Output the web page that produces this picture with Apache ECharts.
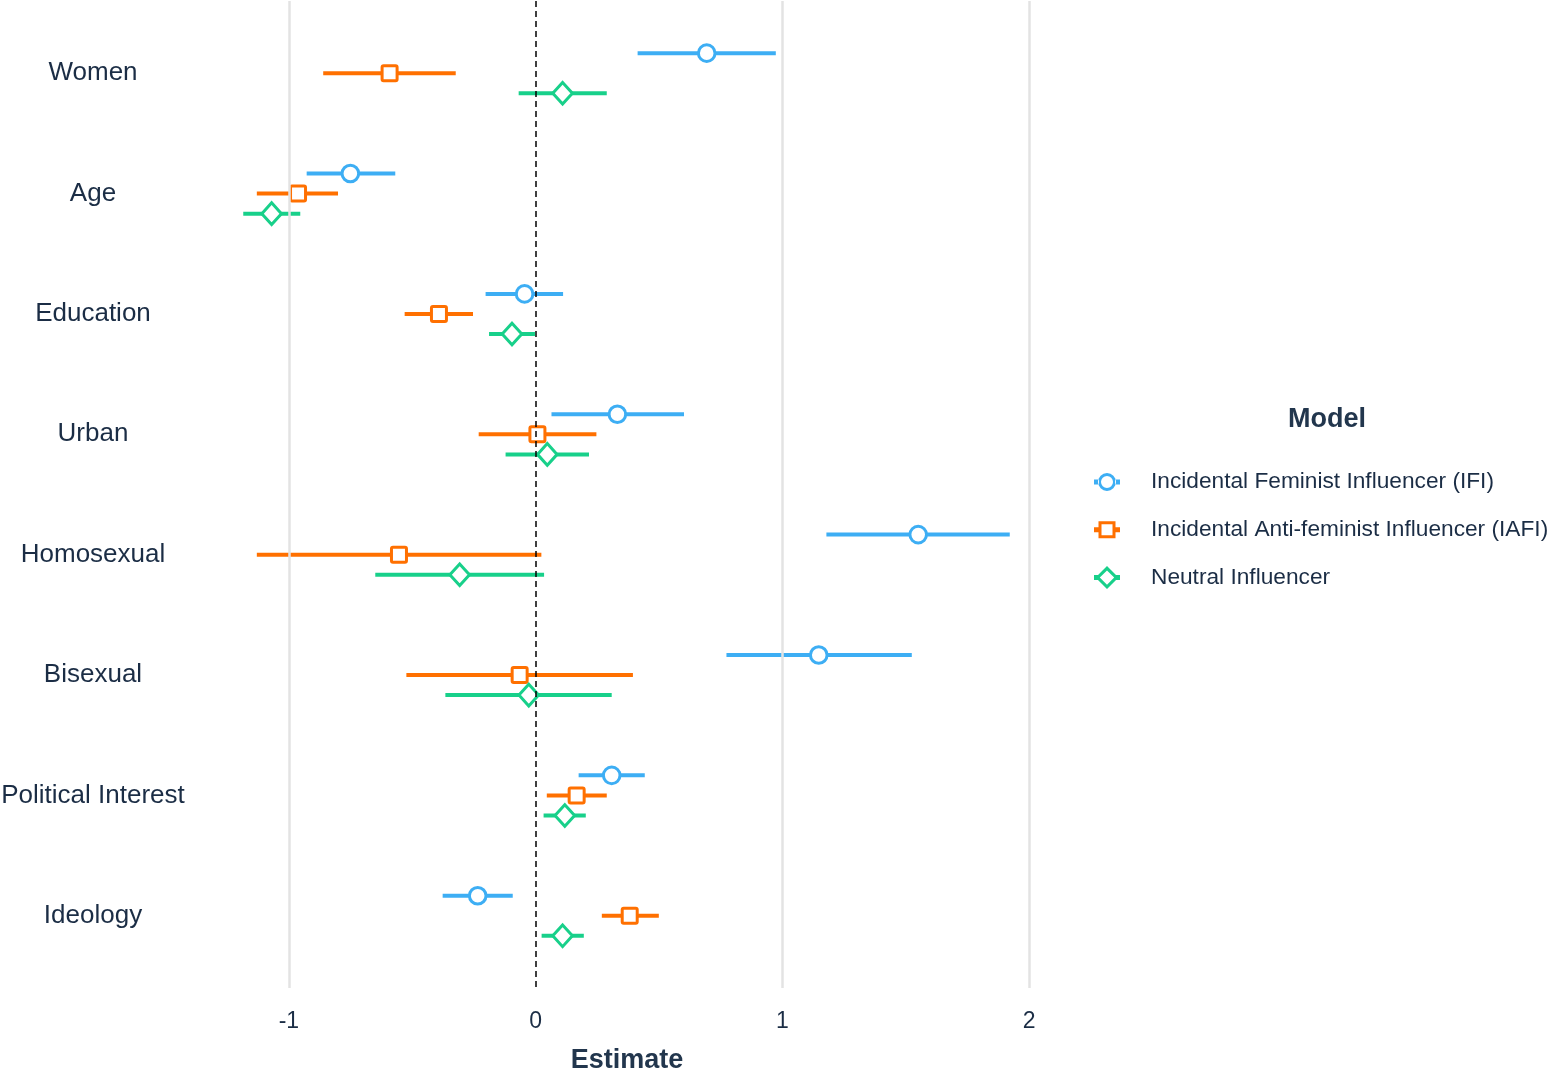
<!DOCTYPE html>
<html>
<head>
<meta charset="utf-8">
<script src="https://cdn.jsdelivr.net/npm/echarts@6/dist/echarts.min.js"></script>
<style>
html,body{margin:0;padding:0;background:#fff;}
#chart{width:1553px;height:1074px;}
</style>
</head>
<body>
<div id="chart"></div>
<script>
const categories = ['Women', 'Age', 'Education', 'Urban', 'Homosexual', 'Bisexual', 'Political Interest', 'Ideology'];
const models = ['Incidental Feminist Influencer (IFI)', 'Incidental Anti-feminist Influencer (IAFI)', 'Neutral Influencer'];
const xTicks = [-1, 0, 1, 2];

const ifiEstimate = [0.693, -0.751, -0.045, 0.331, 1.550, 1.147, 0.308, -0.235];
const ifiLower    = [0.413, -0.928, -0.203, 0.064, 1.178, 0.773, 0.174, -0.377];
const ifiUpper    = [0.973, -0.569, 0.111, 0.601, 1.921, 1.524, 0.442, -0.093];

const iafiEstimate = [-0.592, -0.963, -0.392, 0.007, -0.554, -0.065, 0.166, 0.381];
const iafiLower    = [-0.861, -1.130, -0.531, -0.231, -1.130, -0.524, 0.045, 0.268];
const iafiUpper    = [-0.324, -0.801, -0.254, 0.246, 0.023, 0.394, 0.288, 0.499];

const neutralEstimate = [0.109, -1.070, -0.096, 0.047, -0.308, -0.028, 0.118, 0.109];
const neutralLower    = [-0.069, -1.185, -0.189, -0.122, -0.650, -0.366, 0.032, 0.024];
const neutralUpper    = [0.288, -0.954, -0.003, 0.216, 0.034, 0.308, 0.203, 0.195];

const colors = ['#3DAEF4', '#FF7000', '#18D08A'];
const textColor = '#1B2D45';
const font = '"Liberation Sans", Arial, Helvetica, sans-serif';

function buildData(est, lo, hi) {
  return categories.map((c, i) => [i, lo[i], hi[i], est[i]]);
}

function makeRender(offset, shape, color) {
  return function (params, api) {
    const y = api.value(0) + 1 + offset;
    const a = api.coord([api.value(1), y]);
    const b = api.coord([api.value(2), y]);
    const c = api.coord([api.value(3), y]);
    let marker;
    if (shape === 'circle') {
      marker = { type: 'circle', shape: { cx: c[0], cy: c[1], r: 8.3 },
        style: { fill: '#fff', stroke: color, lineWidth: 3 } };
    } else if (shape === 'square') {
      marker = { type: 'rect', shape: { x: c[0] - 7.5, y: c[1] - 7.5, width: 15, height: 15, r: 1.5 },
        style: { fill: '#fff', stroke: color, lineWidth: 3 } };
    } else {
      marker = { type: 'polygon', shape: { points: [[c[0], c[1] - 10.8], [c[0] + 9.8, c[1]], [c[0], c[1] + 10.8], [c[0] - 9.8, c[1]]] },
        style: { fill: '#fff', stroke: color, lineWidth: 3, lineJoin: 'miter' } };
    }
    return {
      type: 'group',
      children: [
        { type: 'line', shape: { x1: a[0], y1: a[1], x2: b[0], y2: b[1] }, style: { stroke: color, lineWidth: 4 } },
        marker
      ]
    };
  };
}

const bbox = 'M0,-12 L0.01,-12 L0,-12 Z M26,12 L25.99,12 L26,12 Z ';
const iconCircle = 'path://' + bbox +
  'M0,-2.5 L5,-2.5 L5,2.5 L0,2.5 Z M21,-2.5 L26,-2.5 L26,2.5 L21,2.5 Z ' +
  'M4,0 A9,9 0 1,0 22,0 A9,9 0 1,0 4,0 Z ' +
  'M7,0 A6,6 0 1,1 19,0 A6,6 0 1,1 7,0 Z';
const iconSquare = 'path://' + bbox +
  'M0,-2.5 L5,-2.5 L5,2.5 L0,2.5 Z M21,-2.5 L26,-2.5 L26,2.5 L21,2.5 Z ' +
  'M4.5,-8.5 L21.5,-8.5 L21.5,8.5 L4.5,8.5 Z ' +
  'M7.5,-5.5 L7.5,5.5 L18.5,5.5 L18.5,-5.5 Z';
const iconDiamond = 'path://' + bbox +
  'M0,-2.5 L4,-2.5 L4,2.5 L0,2.5 Z M22,-2.5 L26,-2.5 L26,2.5 L22,2.5 Z ' +
  'M13,-11.5 L24.5,0 L13,11.5 L1.5,0 Z ' +
  'M13,-7.2 L5.8,0 L13,7.2 L20.2,0 Z';

const chart = echarts.init(document.getElementById('chart'), null, { renderer: 'canvas' });

const option = {
  backgroundColor: '#ffffff',
  animation: false,
  textStyle: { fontFamily: font },
  grid: { left: 205, right: 504, top: 1, bottom: 86, containLabel: false, outerBoundsMode: 'none' },
  xAxis: {
    type: 'value',
    min: -1.34,
    max: 2.08,
    axisLine: { show: false },
    axisTick: { show: false },
    splitLine: { show: false },
    axisLabel: { customValues: xTicks, fontSize: 23, color: textColor, margin: 22, fontFamily: font },
    name: 'Estimate',
    nameLocation: 'middle',
    nameGap: 59,
    nameTextStyle: { fontSize: 27, fontWeight: 'bold', color: '#22364D', fontFamily: font }
  },
  yAxis: {
    type: 'value',
    inverse: true,
    min: 0.4,
    max: 8.6,
    axisLine: { show: false },
    axisTick: { show: false },
    splitLine: { show: false },
    axisLabel: {
      customValues: categories.map((c, i) => i + 1),
      formatter: v => categories[Math.round(v) - 1] || '',
      align: 'center',
      margin: 112,
      fontSize: 26,
      color: textColor,
      fontFamily: font
    }
  },
  legend: {
    orient: 'vertical',
    left: 1094,
    top: 470,
    padding: 0,
    itemWidth: 78,
    itemHeight: 24,
    itemGap: 23.8,
    itemStyle: { borderWidth: 0 },
    textStyle: { fontSize: 22.7, color: textColor, fontFamily: font },
    data: [
      { name: models[0], icon: iconCircle },
      { name: models[1], icon: iconSquare },
      { name: models[2], icon: iconDiamond }
    ]
  },
  graphic: [
    { type: 'text', left: 1328 - 40, top: 406,
      style: { text: 'Model', fontSize: 27, fontWeight: 'bold', fill: '#22364D', fontFamily: font } }
  ],
  series: [
    {
      name: 'grid', type: 'line', data: [], z: 1, silent: true,
      markLine: {
        silent: true, symbol: 'none', label: { show: false }, animation: false,
        lineStyle: { color: '#E3E3E3', width: 2.5, type: 'solid' },
        data: [{ xAxis: -1 }, { xAxis: 1 }, { xAxis: 2 }]
      }
    },
    {
      name: models[0], type: 'custom', z: 2,
      itemStyle: { color: colors[0] },
      renderItem: makeRender(-1 / 6, 'circle', colors[0]),
      encode: { x: [1, 2, 3], y: 0 },
      data: buildData(ifiEstimate, ifiLower, ifiUpper)
    },
    {
      name: models[1], type: 'custom', z: 2,
      itemStyle: { color: colors[1] },
      renderItem: makeRender(0, 'square', colors[1]),
      encode: { x: [1, 2, 3], y: 0 },
      data: buildData(iafiEstimate, iafiLower, iafiUpper)
    },
    {
      name: models[2], type: 'custom', z: 2,
      itemStyle: { color: colors[2] },
      renderItem: makeRender(1 / 6, 'diamond', colors[2]),
      encode: { x: [1, 2, 3], y: 0 },
      data: buildData(neutralEstimate, neutralLower, neutralUpper)
    },
    {
      name: 'zero', type: 'line', data: [], z: 5, silent: true,
      markLine: {
        silent: true, symbol: 'none', label: { show: false }, animation: false,
        lineStyle: { color: '#000000', width: 1.5, type: [6, 4] },
        data: [{ xAxis: 0 }]
      }
    }
  ]
};

chart.setOption(option);
</script>
</body>
</html>
